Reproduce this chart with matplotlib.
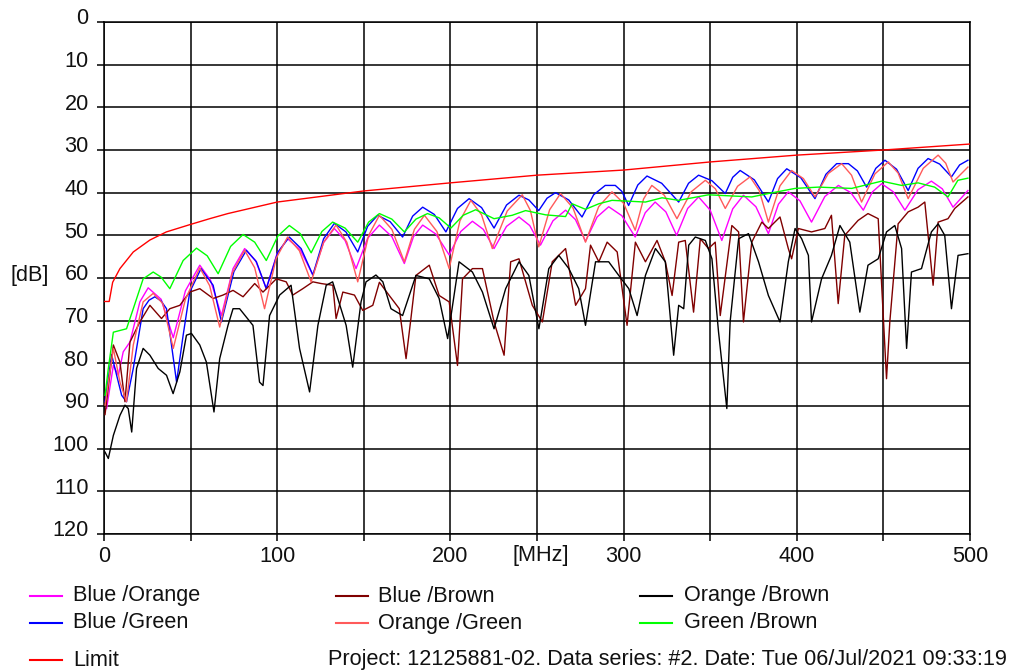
import matplotlib
matplotlib.use("Agg")
import matplotlib.pyplot as plt
from matplotlib.lines import Line2D
from matplotlib.ticker import MultipleLocator, FuncFormatter
from matplotlib.transforms import ScaledTranslation

# ── data (frequency MHz, level dB) ────────────────────────────────────────
LIMIT = [(0, 65.5), (3, 65.5), (5, 61), (9.2, 57.8), (16.9, 53.9), (26.5, 51.1),
         (36, 49.2), (49.5, 47.5), (61, 46.1), (71.5, 44.9), (100, 42.2),
         (150, 39.6), (200, 37.7), (250, 35.9), (300, 34.7), (350, 32.8),
         (400, 31.2), (450, 30.0), (500, 28.6)]

BLUE_ORANGE = [(1.5, 90.6), (5.4, 80.5), (8.3, 82.8), (11.1, 77.3), (15, 75), (20.7, 65.6),
               (25.5, 62.3), (33, 65), (40, 74), (47, 63), (55.3, 57), (61.5, 60.5),
               (67.8, 68.8), (74.5, 57.8), (81.2, 53.1), (87.5, 55.9), (93.7, 62.5),
               (99.9, 54.3), (106, 50.8), (113.3, 53.4), (120.6, 59.3), (126.8, 51.7),
               (133, 48.4), (139.2, 51.2), (145.5, 57.8), (152.2, 50.7), (159, 47.6),
               (166.2, 50.3), (173.4, 56.6), (178.7, 50.3), (184, 47.6), (191.6, 49.7),
               (199.3, 54.6), (206, 49.1), (212.7, 46.7), (219, 48.6), (225.2, 53.1),
               (232.4, 47.9), (239.6, 45.7), (245.8, 47.7), (252, 52.3), (259.2, 46.6),
               (266.5, 44.1), (272.2, 46.3), (278, 51.4), (284.7, 45.7), (291.4, 43.3),
               (299, 45.4), (306.7, 50.4), (312.5, 44.7), (318.2, 42.2), (324.4, 44.5),
               (330.6, 50.0), (337, 43.7), (343.3, 41.0), (350, 44.1), (356.7, 51.2),
               (363, 43.8), (369.2, 40.6), (376.4, 43.3), (383.6, 49.6), (389.4, 42.7),
               (395.1, 39.8), (401.8, 41.9), (408.5, 46.9), (416.2, 40.9), (424, 38.3),
               (431.2, 40.0), (438.4, 44.1), (443.7, 39.8), (449, 37.9), (455.7, 39.8),
               (462.4, 44.1), (470, 39.3), (477.7, 37.3), (484, 39.1), (490.2, 43.4),
               (498.8, 39.5)]

BLUE_GREEN = [(0.6, 89), (4.4, 78), (7.3, 82.8), (10.2, 87.5), (13, 89), (16.9, 81.2),
              (22.6, 67.2), (26, 65.2), (29.4, 64.4), (33, 65.4), (36.1, 67.2), (41.9, 84.4),
              (45.7, 73.4), (49.5, 63.3), (56, 57.8), (63, 61.7), (67.8, 70.3), (75, 58.5),
              (82.2, 53.5), (88, 56.2), (93.7, 62.5), (100.3, 54.0), (107, 50.4),
              (113.8, 53.1), (120.6, 59.3), (126.8, 50.8), (133, 47.2), (139.7, 49.2),
              (146.5, 53.9), (152.2, 47.9), (158, 45.3), (165.2, 46.8), (172.4, 50.4),
              (178.2, 45.5), (184, 43.4), (190.7, 45.1), (197.4, 49.2), (204.1, 43.7),
              (210.8, 41.4), (218, 43.5), (225.2, 48.3), (232.4, 42.9), (239.6, 40.6),
              (245.3, 41.7), (251, 44.2), (255.8, 41.3), (260.7, 40.0), (268.3, 41.7),
              (276, 45.7), (282.7, 40.5), (289.4, 38.3), (295.2, 38.3), (299, 39.7),
              (302.9, 43.0), (308.2, 38.2), (313.5, 36.1), (322, 37.8), (331.8, 42.2),
              (337.5, 37.8), (343.3, 35.9), (351, 37.2), (358.7, 40.2), (363, 36.4),
              (367.3, 34.8), (375.5, 37.0), (383.6, 42.2), (388.9, 36.7), (394.2, 34.4),
              (402.3, 36.5), (410.5, 41.4), (416.8, 35.7), (423, 33.2), (429.8, 33.2),
              (435, 34.9), (440.3, 38.7), (445.6, 34.3), (450.9, 32.4), (457.6, 34.5),
              (464.3, 39.5), (470, 34.3), (475.8, 32.0), (482.5, 33.3), (489.3, 36.3),
              (494, 33.5), (498.8, 32.4)]

BLUE_BROWN = [(0.6, 92), (5.4, 75.7), (9.2, 79.7), (12.1, 89), (15, 75), (20.7, 70.3),
              (26.5, 66.4), (33.2, 69.5), (38, 67.2), (43.8, 66.4), (49.5, 63.3),
              (55.3, 62.5), (63, 64.8), (68.7, 64), (74.5, 62.9), (80.3, 64.4), (87, 61.3),
              (91.8, 63.3), (99.5, 60.2), (105.2, 60.9), (109, 64), (114.8, 62.5),
              (120.6, 60.9), (125.4, 61.3), (132.1, 61.7), (134, 69.5), (137.9, 63.3),
              (144.6, 64), (149.4, 67.6), (155.2, 66.4), (159, 61), (164.7, 64.1),
              (170.5, 67.2), (174.4, 78.9), (177.2, 69.5), (180.1, 59.4), (187.8, 57),
              (193.5, 64.1), (199.3, 65.6), (204.1, 80.5), (207, 60.2), (212.7, 57.8),
              (218.5, 57.8), (225.2, 70.3), (231, 78.1), (234.8, 56.2), (239.6, 55.5),
              (247.3, 66.4), (253.1, 70.3), (258.8, 56.2), (266.5, 53.1), (272.3, 66.4),
              (278, 62.5), (280.9, 52.3), (285.7, 56.2), (290.5, 51.6), (296.3, 53.9),
              (302, 71.1), (306.8, 51.6), (312.6, 56.2), (319.3, 51.2), (324.1, 56.2),
              (328, 64.1), (331.8, 51.6), (335.6, 51.2), (340.4, 68), (344.3, 50.8),
              (349, 53.1), (352.9, 51.6), (355.8, 68.8), (362.5, 47.7), (366.4, 49.2),
              (369.2, 70.3), (374, 51.6), (379.8, 46.9), (383.6, 48.4), (390.3, 45.7),
              (395.1, 53.1), (397, 55.5), (400.9, 48.4), (408.5, 49.2), (416.2, 48.4),
              (420, 45.3), (423.9, 66), (427.7, 50), (435.4, 46.5), (441.1, 44.9),
              (447, 46.1), (451.8, 83.6), (453.7, 70.3), (458.5, 47.3), (464.3, 44.5),
              (470, 43.4), (473.9, 42.2), (478.7, 61.7), (481.6, 46.9), (487.3, 46.1),
              (491.2, 43.7), (498.8, 41)]

ORANGE_GREEN = [(0.6, 89.8), (5.4, 76.5), (9.2, 84.4), (13, 89), (16.9, 75.7), (22.6, 65.6),
                (28.4, 63.6), (34, 66), (40, 76.5), (47, 65), (55.3, 57.6), (61, 61.8),
                (66.8, 71.5), (74, 58.9), (81.2, 53.5), (87, 57.6), (92.7, 67.2),
                (99.4, 55.4), (106, 50.4), (112.8, 53.6), (119.6, 60.9), (126.8, 51.6),
                (134, 47.6), (140.2, 51.6), (146.5, 60.9), (152.8, 50.0), (159, 45.3),
                (166.2, 48.6), (173.4, 56.2), (179.2, 48.6), (185, 45.3), (192.2, 49.1),
                (199.3, 57.8), (205.5, 46.6), (211.8, 41.8), (218, 45.2), (224.2, 53.1),
                (232.8, 44.3), (241.5, 40.5), (246.2, 44.2), (251, 52.7), (257.3, 44.0),
                (263.6, 40.2), (270.8, 43.6), (278, 51.6), (285.6, 43.3), (293.3, 39.8),
                (300, 42.5), (306.7, 48.8), (311.5, 41.5), (316.3, 38.3), (323.5, 40.6),
                (330.8, 46.1), (339, 39.8), (347.2, 37.1), (353, 39.1), (358.7, 43.7),
                (365.8, 38.5), (373, 36.3), (378.3, 39.5), (383.6, 46.9), (390.3, 38.4),
                (397, 34.8), (403.8, 36.7), (410.5, 41.0), (418.2, 35.5), (425.9, 33.2),
                (431.6, 35.9), (437.4, 42.2), (445.1, 35.6), (452.8, 32.8), (458.5, 35.4),
                (464.3, 41.4), (473, 34.3), (481.6, 31.2), (486, 33.1), (490.2, 37.5),
                (498.8, 34.0)]

ORANGE_BROWN = [(0.6, 100.8), (2.5, 102.3), (5.4, 96.9), (9.2, 92.2), (12.1, 89.8), (14, 90.6),
                (16, 96.1), (18.8, 81.2), (22.6, 76.5), (26.5, 78.1), (31.3, 81.2),
                (36.1, 82.8), (39.9, 87.1), (43.8, 82), (47.6, 73.4), (50.5, 73),
                (55.3, 75.7), (59.1, 79.7), (63.5, 91.4), (66.8, 78.9), (71.6, 71.1),
                (74.5, 67.2), (78.3, 67.2), (86, 71.1), (89.8, 84.4), (91.8, 85.2),
                (95.6, 68.8), (101.4, 64), (108, 61.7), (112.9, 76.5), (118.7, 86.7),
                (123.5, 71.1), (128.3, 61.7), (132, 60.9), (139.8, 71.1), (143.6, 80.9),
                (148.4, 65.6), (151.3, 60.9), (157, 59.3), (161, 60.9), (165.7, 67.2),
                (172.4, 68.8), (180.1, 59.4), (187.8, 60.2), (193.5, 64.8), (198.4, 74.2),
                (205, 56.2), (212.7, 58.6), (218.5, 63.3), (225.2, 71.9), (231.9, 62.5),
                (239.6, 56.2), (245.3, 59.4), (251.1, 71.9), (256.8, 57.8), (262.6, 54.7),
                (268.4, 57.8), (274.1, 62.5), (278, 71.1), (283.8, 56.2), (291.4, 56.2),
                (297.2, 59.4), (303, 62.5), (307.8, 68.8), (312.6, 59.4), (318.4, 53.1),
                (324.1, 56.2), (328.9, 78.1), (331.8, 66.4), (334.7, 67.2), (337.6, 52.3),
                (341.4, 50.4), (347.2, 51.2), (351, 55.5), (354.8, 72.6), (359.6, 90.6),
                (361.5, 70.3), (366.4, 50.8), (372.1, 49.6), (377.9, 56.2), (383.6, 64.1),
                (390.3, 70.3), (395.1, 56.2), (399, 48.4), (402.8, 50.8), (406.7, 54.7),
                (408.5, 70.3), (414.3, 60.2), (420, 54.7), (424.9, 47.7), (430.6, 51.6),
                (436.4, 68), (441.1, 57), (447, 55.5), (451.8, 49.2), (456.6, 47.7),
                (460.5, 53.1), (463.4, 76.5), (466.2, 58.6), (472, 57.8), (477.7, 49.2),
                (481.6, 47.3), (485.4, 50), (489.3, 67.2), (493.1, 54.7), (498.8, 54.3)]

GREEN_BROWN = [(0.6, 87.5), (2.5, 81.2), (5.4, 72.7), (13, 71.9), (16.9, 67.2), (22.6, 60.2),
               (28.4, 58.6), (33, 59.8), (38, 62.5), (45.7, 55.9), (53.4, 53.0), (59.6, 54.8),
               (65.9, 59.0), (73.1, 52.6), (80.3, 49.8), (87, 51.6), (93.7, 55.9),
               (100.3, 50.2), (107, 47.7), (113.3, 49.6), (119.6, 54.1), (125.8, 49.1),
               (132, 46.9), (139.2, 48.3), (146.5, 51.6), (152.8, 46.9), (159, 44.9),
               (166.2, 46.2), (173.4, 49.2), (180.1, 46.2), (186.8, 44.9), (193.5, 45.9),
               (200.3, 48.3), (207.4, 45.3), (214.6, 44.0), (225.2, 46.1), (235.7, 45.3),
               (243.4, 44.2), (255, 45.2), (266.5, 45.6), (270.3, 42.6), (278, 43.9),
               (285.7, 42.6), (293.3, 41.8), (312.6, 42.2), (322.2, 41.2), (331.8, 41.8),
               (349, 40.5), (374, 41.0), (383.6, 40.2), (399, 39.0), (412.5, 38.7),
               (431.7, 39.0), (449, 37.3), (460.5, 38.3), (470, 37.7), (479.6, 38.7),
               (487.3, 41.0), (493, 37.1), (498.8, 36.6)]

SERIES = [
    ("Blue /Orange", BLUE_ORANGE, "#FF00FF"),
    ("Blue /Green", BLUE_GREEN, "#0000FF"),
    ("Blue /Brown", BLUE_BROWN, "#800000"),
    ("Orange /Green", ORANGE_GREEN, "#FF5A5A"),
    ("Orange /Brown", ORANGE_BROWN, "#000000"),
    ("Green /Brown", GREEN_BROWN, "#00FF00"),
    ("Limit", LIMIT, "#FF0000"),
]

FOOTER = "Project: 12125881-02. Data series: #2. Date: Tue 06/Jul/2021 09:33:19"

W, H = 1016, 672
plt.rcParams["font.family"] = ["Liberation Sans", "DejaVu Sans"]
FS = 15.6


def fx(x):
    return x / W


def fy(y):
    return 1 - y / H


fig = plt.figure(figsize=(W / 100, H / 100), dpi=100, facecolor="white")
ax = fig.add_axes([fx(104), fy(534), (970 - 104) / W, (534 - 22) / H])

for name, pts, color in SERIES:
    f, db = zip(*pts)
    ax.plot(f, db, color=color, lw=1.0, zorder=3)

ax.set_xlim(0, 500)
ax.set_ylim(120, 0)
ax.xaxis.set_major_locator(MultipleLocator(50))
ax.xaxis.set_major_formatter(FuncFormatter(lambda v, p: f"{v:.0f}" if v % 100 == 0 else ""))
ax.yaxis.set_major_locator(MultipleLocator(10))
ax.grid(True, color="black", lw=1.1)
for s in ax.spines.values():
    s.set_color("black")
    s.set_linewidth(1.1)
ax.tick_params(direction="out", length=5, width=1.1, color="black",
               labelsize=FS, labelcolor="#111111")
ax.tick_params(axis="y", pad=6)
ax.tick_params(axis="x", pad=4)
shift = ScaledTranslation(0, 4 / 72, fig.dpi_scale_trans)
for lab in ax.get_yticklabels():
    lab.set_transform(lab.get_transform() + shift)

fig.text(fx(10), fy(275), "[dB]", fontsize=FS, va="center", ha="left", color="#111111")
fig.text(fx(512), fy(555), "[MHz]", fontsize=FS, va="center", ha="left", color="#111111")

# legend, laid out by hand in three columns
cols = [(30, 73), (336, 378), (640, 684)]
rows = [596, 623, 660]
slots = [(0, 0), (0, 1), (1, 0), (1, 1), (2, 0), (2, 1), (0, 2)]
for (name, pts, color), (c, r) in zip(SERIES, slots):
    lx, tx = cols[c]
    y = rows[r]
    fig.lines.append(Line2D([fx(lx), fx(lx + 32)], [fy(y), fy(y)], color=color, lw=1.5,
                            transform=fig.transFigure))
    fig.text(fx(tx), fy(y), name, fontsize=FS, va="center", ha="left", color="#111111")

fig.text(fx(328), fy(660), FOOTER, fontsize=FS, va="center", ha="left", color="#111111")

fig.savefig("out.png", dpi=100, facecolor="white")
